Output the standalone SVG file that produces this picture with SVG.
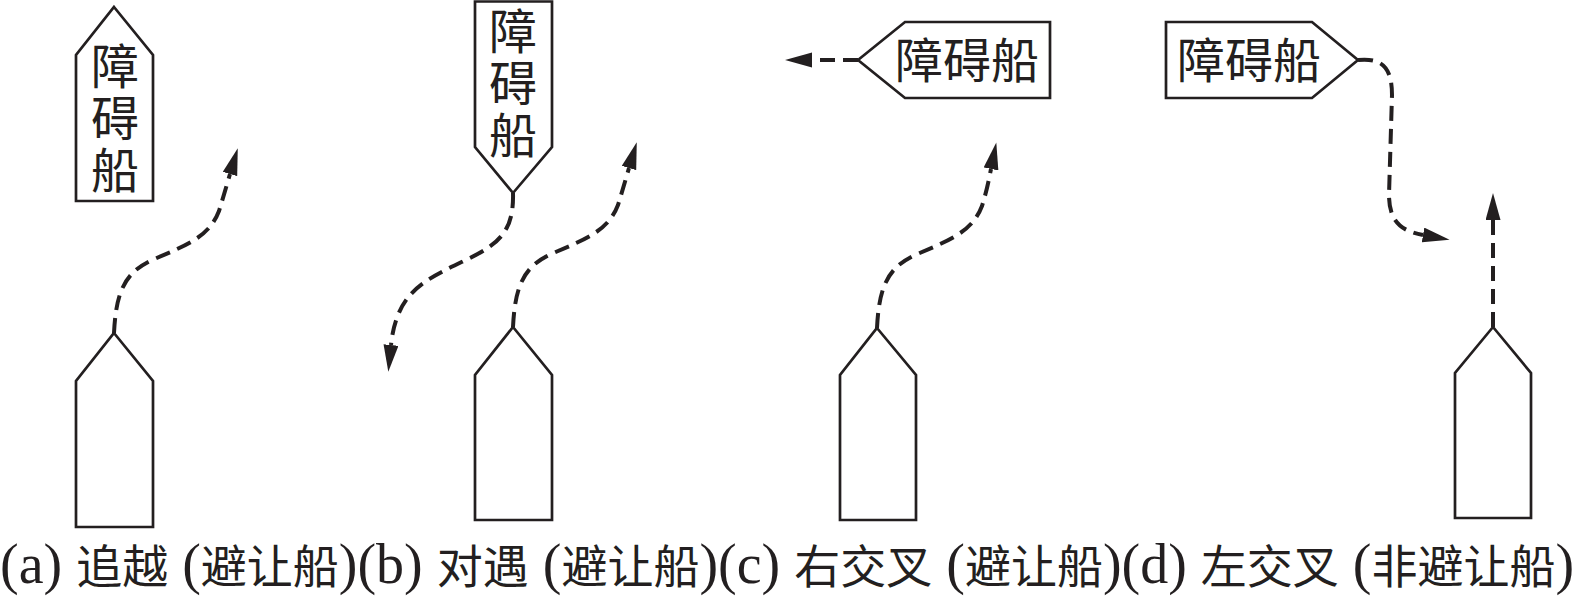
<svg xmlns="http://www.w3.org/2000/svg" width="1575" height="598" viewBox="0 0 1575 598">
<style>
.ship{fill:#fff;stroke:#231f20;stroke-width:2.7;stroke-linejoin:miter}
.lbl{font-family:"Noto Sans CJK SC","Noto Sans CJK JP",sans-serif;font-size:48px;fill:#231f20;text-anchor:middle}
.vert{writing-mode:vertical-rl;letter-spacing:4px}
.path{fill:none;stroke:#231f20;stroke-width:4;stroke-dasharray:15 8}
.lat{font-family:"Liberation Serif",serif;font-size:56px}
.cjk{font-family:"Noto Sans CJK SC","Noto Sans CJK JP",sans-serif;font-size:46px}
.cap{fill:#231f20}
</style>
<defs>
<marker id="ah" markerUnits="userSpaceOnUse" markerWidth="28" markerHeight="16" refX="0" refY="7.5" orient="auto">
<path d="M0,0 L27,7.5 L0,15 z" fill="#231f20"/>
</marker>
</defs>
<g id="obstacle-a">
<polygon class="ship" points="114,7 153,55 153,201 76,201 76,55"/>
<text class="lbl vert" x="115" y="120">障碍船</text>
</g>
<g id="own-a"><polygon class="ship" points="114,333 153,381 153,527 76,527 76,381"/></g>
<g id="obstacle-b">
<polygon class="ship" points="475,1.5 552,1.5 552,147 513,193 475,147"/>
<text class="lbl vert" x="513" y="85">障碍船</text>
</g>
<g id="own-b"><polygon class="ship" points="513,327 552,375 552,520 475,520 475,375"/></g>
<g id="obstacle-c">
<polygon class="ship" points="858,60 905,22 1050,22 1050,98 905,98"/>
<text class="lbl" x="967" y="78">障碍船</text>
</g>
<g id="own-c"><polygon class="ship" points="877,328 916,375 916,520 840,520 840,375"/></g>
<g id="obstacle-d">
<polygon class="ship" points="1166,22 1312,22 1358,60 1312,98 1166,98"/>
<text class="lbl" x="1249" y="78">障碍船</text>
</g>
<g id="own-d"><polygon class="ship" points="1493,327 1531,373 1531,518 1455,518 1455,373"/></g>
<g id="connectors">
<path class="path" marker-end="url(#ah)" transform="translate(114,333)" d="M0,0 C2,-40 10,-60 38,-73 C73,-88 95,-96 105,-122 C110,-138 113,-149 116,-159"/>
<path class="path" marker-end="url(#ah)" transform="translate(513,327)" d="M0,0 C2,-40 10,-60 38,-73 C73,-88 95,-96 105,-122 C110,-138 113,-149 116,-159"/>
<path class="path" marker-end="url(#ah)" transform="translate(877,328)" d="M0,0 C2,-40 10,-60 38,-73 C73,-88 95,-96 105,-122 C110,-138 112,-149 114,-159"/>
<path class="path" marker-end="url(#ah)" d="M513,193 C514,230 500,243 470,258 C435,275 410,285 398,315 C394,325 392,335 391,345"/>
<path class="path" marker-end="url(#ah)" d="M858,60 L812,60"/>
<path class="path" marker-end="url(#ah)" d="M1358,60 C1380,58 1392,65 1392,95 L1389,195 C1389,220 1400,231 1423,235"/>
<path class="path" marker-end="url(#ah)" d="M1493,327 L1493,220"/>
</g>
<text class="cap" x="0" y="583"><tspan class="lat">(a) </tspan><tspan class="cjk">追越</tspan><tspan class="lat"> (</tspan><tspan class="cjk">避让船</tspan><tspan class="lat">)(b) </tspan><tspan class="cjk">对遇</tspan><tspan class="lat"> (</tspan><tspan class="cjk">避让船</tspan><tspan class="lat">)(c) </tspan><tspan class="cjk">右交叉</tspan><tspan class="lat"> (</tspan><tspan class="cjk">避让船</tspan><tspan class="lat">)(d) </tspan><tspan class="cjk">左交叉</tspan><tspan class="lat"> (</tspan><tspan class="cjk">非避让船</tspan><tspan class="lat">)</tspan></text>
</svg>
